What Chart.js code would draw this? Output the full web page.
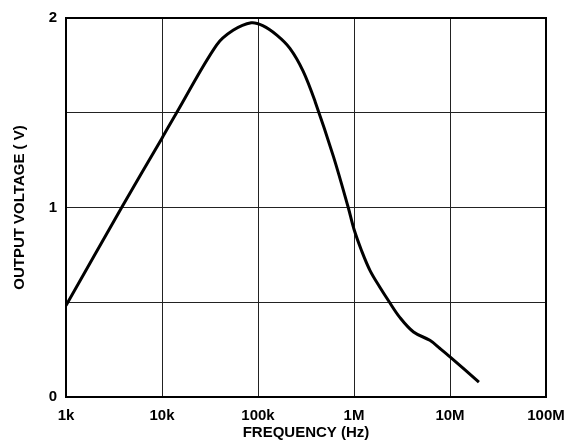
<!DOCTYPE html>
<html>
<head>
<meta charset="utf-8">
<script src="https://cdn.jsdelivr.net/npm/chart.js@4"></script>
<style>
    html, body { margin: 0; padding: 0; background: #fff; }
    #wrap { width: 571px; height: 440px; }
</style>
</head>
<body>
<div id="wrap"><canvas id="chart"></canvas></div>
<script>
// Output voltage vs frequency
const freqHz = [1000, 3800, 10000, 14200, 37000, 55000, 85000, 112000, 157000, 215000,
    295000, 393000, 610000, 871000, 1000000, 1200000, 1470000, 1860000, 2280000,
    3000000, 4170000, 6170000, 7870000, 10000000, 20000000];
const outputV = [0.483, 1.0, 1.366, 1.5, 1.857, 1.935, 1.975, 1.96, 1.91, 1.84,
    1.72, 1.56, 1.27, 1.0, 0.885, 0.772, 0.667, 0.579, 0.509,
    0.42, 0.343, 0.299, 0.256, 0.212, 0.078];

const xTickValues = [1e3, 1e4, 1e5, 1e6, 1e7, 1e8];
const xTickLabels = ['1k', '10k', '100k', '1M', '10M', '100M'];
const yTickValues = [0, 0.5, 1, 1.5, 2];
const yTickLabels = ['0', '', '1', '', '2'];

const FONT = "'Liberation Sans', Arial, Helvetica, sans-serif";
const points = freqHz.map((f, i) => ({ x: f, y: outputV[i] }));

// Heavy frame around the plot area
const frame = {
    id: 'frame',
    afterDatasetsDraw(chart) {
        const { ctx, chartArea: a } = chart;
        ctx.save();
        ctx.strokeStyle = '#000';
        ctx.lineWidth = 2;
        ctx.strokeRect(a.left, a.top, a.right - a.left, a.bottom - a.top);
        ctx.restore();
    }
};

new Chart(document.getElementById('chart'), {
    type: 'line',
    data: {
        datasets: [{
            data: points,
            borderColor: '#000',
            borderWidth: 3,
            pointRadius: 0,
            tension: 0.35,
            fill: false
        }]
    },
    options: {
        responsive: true,
        maintainAspectRatio: false,
        animation: false,
        layout: { padding: { left: 0, right: 25, top: 16, bottom: 0 } },
        plugins: { legend: { display: false }, tooltip: { enabled: false } },
        scales: {
            x: {
                type: 'logarithmic',
                min: 1e3,
                max: 1e8,
                afterBuildTicks: axis => { axis.ticks = xTickValues.map(v => ({ value: v })); },
                afterFit: axis => {
                    axis.height = 43;
                    axis.paddingLeft = 0;
                    axis.paddingRight = 0;
                },
                grid: { color: '#222', lineWidth: 1, drawTicks: false },
                border: { display: false },
                ticks: {
                    padding: 10,
                    color: '#000',
                    maxRotation: 0,
                    autoSkip: false,
                    font: { family: FONT, size: 15, weight: 'bold' },
                    callback: (v) => {
                        const i = xTickValues.indexOf(v);
                        return i >= 0 ? xTickLabels[i] : '';
                    }
                },
                title: {
                    display: true,
                    text: 'FREQUENCY (Hz)',
                    color: '#000',
                    padding: { top: 0, bottom: -2 },
                    font: { family: FONT, size: 15, weight: 'bold' }
                }
            },
            y: {
                min: 0,
                max: 2,
                afterBuildTicks: axis => { axis.ticks = yTickValues.map(v => ({ value: v })); },
                afterFit: axis => { axis.width = 66; },
                grid: { color: '#222', lineWidth: 1, drawTicks: false },
                border: { display: false },
                ticks: {
                    padding: 9,
                    color: '#000',
                    font: { family: FONT, size: 15, weight: 'bold' },
                    callback: (v) => {
                        const i = yTickValues.indexOf(v);
                        return i >= 0 ? yTickLabels[i] : '';
                    }
                },
                title: {
                    display: true,
                    text: 'OUTPUT VOLTAGE ( V)',
                    color: '#000',
                    padding: { top: 11, bottom: 0 },
                    font: { family: FONT, size: 15, weight: 'bold' }
                }
            }
        }
    },
    plugins: [frame]
});
</script>
</body>
</html>
